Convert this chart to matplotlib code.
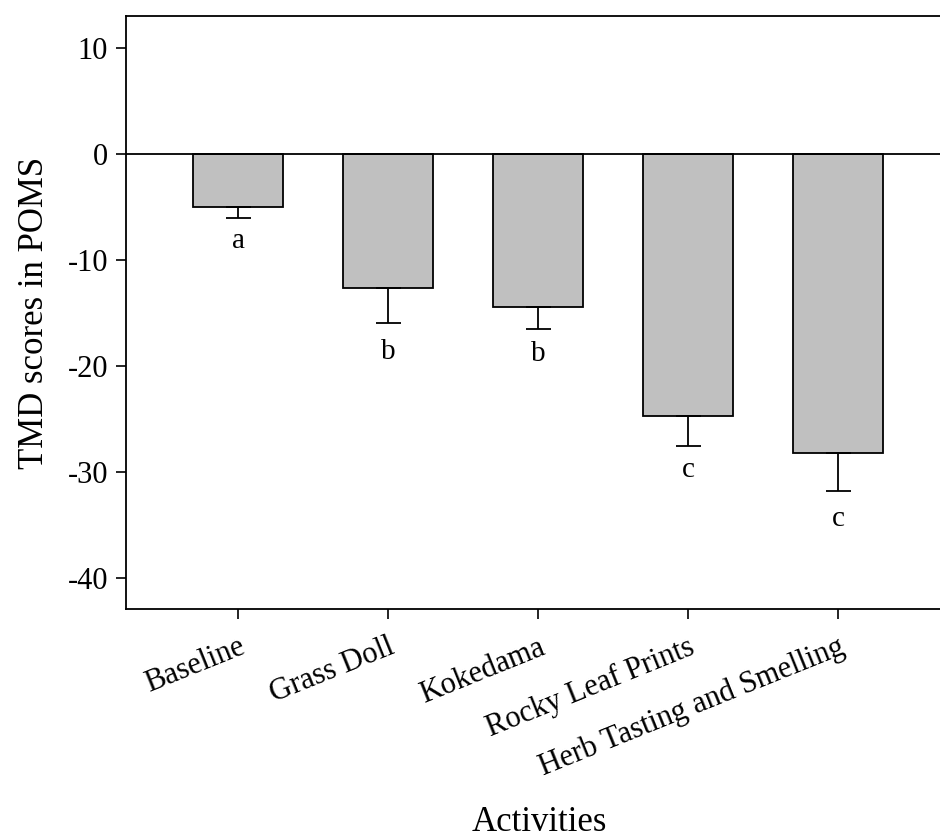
import numpy as np
import matplotlib.pyplot as plt

activities = ["Baseline", "Grass Doll", "Kokedama", "Rocky Leaf Prints",
              "Herb Tasting and Smelling"]
tmd_mean = [-5.0, -12.6, -14.4, -24.7, -28.2]
tmd_err = [1.0, 3.3, 2.1, 2.8, 3.6]
letters = ["a", "b", "b", "c", "c"]
letter_pos = [-8.2, -18.7, -18.9, -29.8, -34.4]


def main():
    plt.rcParams['font.family'] = ['Liberation Serif', 'DejaVu Serif']
    plt.rcParams['axes.unicode_minus'] = False

    fig = plt.figure(figsize=(9.4, 8.39), dpi=100)
    ax = fig.add_axes([126 / 940, 1 - 609 / 839, (940 - 126) / 940, (609 - 16) / 839])

    x = np.arange(len(activities))
    ax.bar(x, tmd_mean, width=0.6, color='#c0c0c0', edgecolor='black', linewidth=1.3)
    ax.errorbar(x, tmd_mean, yerr=[tmd_err, np.zeros(len(x))], fmt='none',
                ecolor='black', elinewidth=1.3, capsize=9, capthick=1.3)
    ax.axhline(0, color='black', linewidth=1.3)

    for xi, lab, yp in zip(x, letters, letter_pos):
        ax.text(xi, yp, lab, ha='center', va='center', fontsize=21)

    ax.set_xlim(-0.747, 4.68)
    ax.set_ylim(-42.9, 13.0)
    ax.set_yticks([10, 0, -10, -20, -30, -40])
    ax.set_xticks(x)
    ax.set_xticklabels(activities, rotation=22, ha='right', rotation_mode='anchor',
                       fontsize=22)
    ax.tick_params(axis='y', labelsize=22, length=7, width=1.2, direction='out', pad=6)
    ax.tick_params(axis='x', length=7, width=1.2, direction='out', pad=10)
    ax.spines['right'].set_visible(False)
    for s in ['left', 'bottom', 'top']:
        ax.spines[s].set_linewidth(1.3)

    ax.set_ylabel("TMD scores in POMS", fontsize=25)
    ax.yaxis.set_label_coords(-0.092, 0.5)
    ax.set_xlabel("Activities", fontsize=25)
    ax.xaxis.set_label_coords(0.508, -0.333)

    fig.savefig("out.png", dpi=100)


if __name__ == "__main__":
    main()
